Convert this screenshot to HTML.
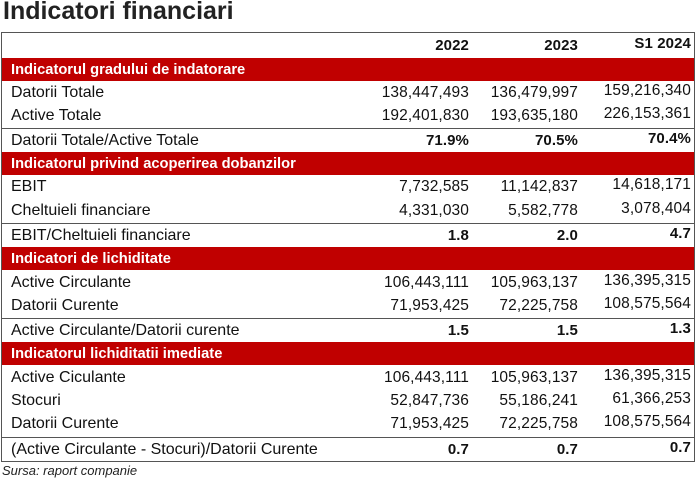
<!DOCTYPE html>
<html><head><meta charset="utf-8"><style>
body{margin:0;width:700px;height:481px;background:#fff;position:relative;font-family:"Liberation Sans",sans-serif;overflow:hidden}
h1{position:absolute;left:3px;top:-3px;margin:0;font-size:25px;font-weight:bold;color:#222}
.t{position:absolute;left:1px;top:32px;width:694px;height:430px;border:1px solid #555;box-sizing:border-box}
.r{position:absolute;left:0;width:692px;height:23px;font-size:16px;color:#111}
.r span{position:absolute;top:3px;white-space:nowrap}
.a,.b,.c{font-size:15.5px;letter-spacing:0.1px}
.a{right:225px}.b{right:116px}.c{right:3px;top:1px!important}
.red{background:#c00000;color:#fff}
.red .l{font-weight:bold;font-size:14.7px;top:4px}
.l{left:9px}
.bt{border-top:1px solid #555}
.bold span.a,.bold span.b,.bold span.c{font-weight:bold;font-size:15px}
.src{position:absolute;left:2px;top:463px;font-size:13px;font-style:italic;color:#222}
</style></head><body>
<h1>Indicatori financiari</h1>
<div class="t">
<div class="r bold" style="top:1px"><span class="a">2022</span><span class="b">2023</span><span class="c">S1 2024</span></div>
<div class="r red" style="top:25px"><span class="l">Indicatorul gradului de indatorare</span></div>
<div class="r" style="top:48px"><span class="l">Datorii Totale</span><span class="a">138,447,493</span><span class="b">136,479,997</span><span class="c">159,216,340</span></div>
<div class="r" style="top:71px"><span class="l">Active Totale</span><span class="a">192,401,830</span><span class="b">193,635,180</span><span class="c">226,153,361</span></div>
<div class="r bold bt" style="top:95px"><span class="l">Datorii Totale/Active Totale</span><span class="a">71.9%</span><span class="b">70.5%</span><span class="c">70.4%</span></div>
<div class="r red" style="top:119px"><span class="l">Indicatorul privind acoperirea dobanzilor</span></div>
<div class="r" style="top:142px"><span class="l">EBIT</span><span class="a">7,732,585</span><span class="b">11,142,837</span><span class="c">14,618,171</span></div>
<div class="r" style="top:166px"><span class="l">Cheltuieli financiare</span><span class="a">4,331,030</span><span class="b">5,582,778</span><span class="c">3,078,404</span></div>
<div class="r bold bt" style="top:190px"><span class="l">EBIT/Cheltuieli financiare</span><span class="a">1.8</span><span class="b">2.0</span><span class="c">4.7</span></div>
<div class="r red" style="top:214px"><span class="l">Indicatori de lichiditate</span></div>
<div class="r" style="top:238px"><span class="l">Active Circulante</span><span class="a">106,443,111</span><span class="b">105,963,137</span><span class="c">136,395,315</span></div>
<div class="r" style="top:261px"><span class="l">Datorii Curente</span><span class="a">71,953,425</span><span class="b">72,225,758</span><span class="c">108,575,564</span></div>
<div class="r bold bt" style="top:285px"><span class="l">Active Circulante/Datorii curente</span><span class="a">1.5</span><span class="b">1.5</span><span class="c">1.3</span></div>
<div class="r red" style="top:309px"><span class="l">Indicatorul lichiditatii imediate</span></div>
<div class="r" style="top:333px"><span class="l">Active Ciculante</span><span class="a">106,443,111</span><span class="b">105,963,137</span><span class="c">136,395,315</span></div>
<div class="r" style="top:356px"><span class="l">Stocuri</span><span class="a">52,847,736</span><span class="b">55,186,241</span><span class="c">61,366,253</span></div>
<div class="r" style="top:379px"><span class="l">Datorii Curente</span><span class="a">71,953,425</span><span class="b">72,225,758</span><span class="c">108,575,564</span></div>
<div class="r bold bt" style="top:404px"><span class="l">(Active Circulante - Stocuri)/Datorii Curente</span><span class="a">0.7</span><span class="b">0.7</span><span class="c">0.7</span></div>
</div>
<div class="src">Sursa: raport companie</div>
</body></html>
